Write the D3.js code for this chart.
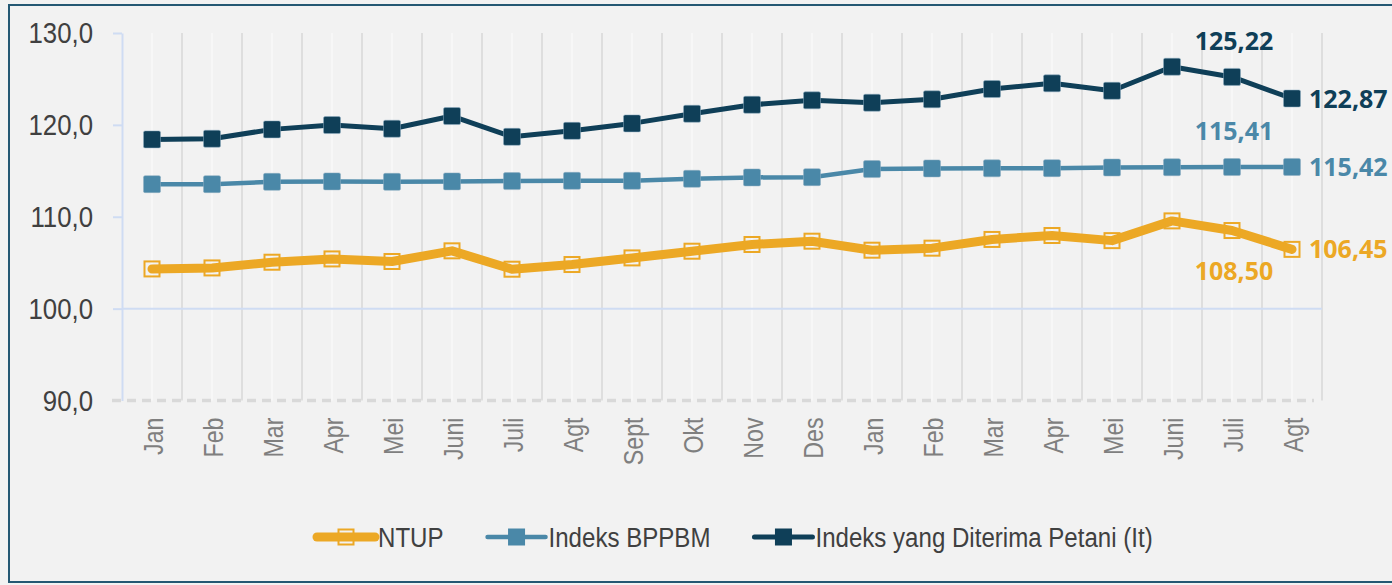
<!DOCTYPE html>
<html>
<head>
<meta charset="utf-8">
<script src="https://cdn.jsdelivr.net/npm/d3@7"></script>
<style>
  body { margin: 0; background: #f2f2f2; }
  svg { display: block; }
</style>
</head>
<body>
<div id="chart"></div>
<script>
// months on the x axis (two years, Jan..Des then Jan..Agt)
var months = ["Jan", "Feb", "Mar", "Apr", "Mei", "Juni", "Juli", "Agt", "Sept", "Okt", "Nov", "Des",
              "Jan", "Feb", "Mar", "Apr", "Mei", "Juni", "Juli", "Agt"];

var ntup  = [104.32, 104.43, 105.05, 105.41, 105.13, 106.29, 104.29, 104.80, 105.52, 106.25, 106.98, 107.34,
             106.36, 106.58, 107.53, 107.96, 107.40, 109.55, 108.50, 106.45];
var bppbm = [113.55, 113.55, 113.80, 113.85, 113.80, 113.85, 113.88, 113.91, 113.91, 114.13, 114.28, 114.31,
             115.19, 115.26, 115.27, 115.29, 115.36, 115.39, 115.41, 115.42];
var it    = [118.42, 118.49, 119.51, 119.98, 119.58, 120.96, 118.70, 119.35, 120.16, 121.21, 122.19, 122.67,
             122.41, 122.78, 123.90, 124.52, 123.71, 126.33, 125.22, 122.87];

var yTicks = [90, 100, 110, 120, 130];
var seriesNames = ["NTUP", "Indeks BPPBM", "Indeks yang Diterima Petani (It)"];

// which points get a value label
var labelPoints = [
  {series: 2, index: 18, place: "above"},
  {series: 2, index: 19, place: "right"},
  {series: 1, index: 18, place: "above"},
  {series: 1, index: 19, place: "right"},
  {series: 0, index: 18, place: "below"},
  {series: 0, index: 19, place: "right"}
];

document.addEventListener("DOMContentLoaded", function() {

  var W = 1392, H = 585;
  // no narrow font installed: squeeze Liberation Sans horizontally
  var sans = "'Liberation Sans', Arial, sans-serif";
  var squeeze = 0.86;

  var series = [
    {name: seriesNames[0], values: ntup,  color: "#eca825", width: 9,   marker: 15, hollow: true},
    {name: seriesNames[1], values: bppbm, color: "#4a88a8", width: 4.5, marker: 17, hollow: false},
    {name: seriesNames[2], values: it,    color: "#0f3f58", width: 5,   marker: 17, hollow: false}
  ];

  var svg = d3.select("#chart")
    .append("svg")
      .attr("width", W)
      .attr("height", H);

  // chart frame
  svg.append("rect")
    .attr("x", 9).attr("y", 5)
    .attr("width", W + 20).attr("height", 577)
    .attr("fill", "#f2f2f2")
    .attr("stroke", "#245873")
    .attr("stroke-width", 2);

  var x = d3.scaleBand()
    .domain(d3.range(months.length))
    .range([122, 1322]);

  var y = d3.scaleLinear()
    .domain([90, 130])
    .range([400.5, 33]);

  var cx = function(i) { return x(i) + x.bandwidth() / 2; };

  // faint lines at the category centres
  svg.append("g")
    .selectAll("line")
    .data(d3.range(months.length))
    .enter()
    .append("line")
      .attr("x1", cx).attr("x2", cx)
      .attr("y1", y(130)).attr("y2", y(90))
      .attr("stroke", "#f7f7f7")
      .attr("stroke-width", 2);

  // vertical gridlines between categories
  svg.append("g")
    .selectAll("line")
    .data(d3.range(1, months.length + 1))
    .enter()
    .append("line")
      .attr("x1", function(i) { return 122 + i * x.step(); })
      .attr("x2", function(i) { return 122 + i * x.step(); })
      .attr("y1", y(130)).attr("y2", y(90))
      .attr("stroke", "#dedede")
      .attr("stroke-width", 2);

  // horizontal line at 100
  svg.append("line")
    .attr("x1", 122).attr("x2", 1322)
    .attr("y1", y(100)).attr("y2", y(100))
    .attr("stroke", "#cfdcf3")
    .attr("stroke-width", 2);

  // dashed baseline at 90
  svg.append("line")
    .attr("x1", 112).attr("x2", 1314)
    .attr("y1", y(90)).attr("y2", y(90))
    .attr("stroke", "#d9d9d9")
    .attr("stroke-width", 3.5)
    .attr("stroke-dasharray", "9,6");

  // y axis
  var yAxis = svg.append("g")
    .attr("transform", "translate(122,0)")
    .call(d3.axisLeft(y)
      .tickValues(yTicks)
      .tickSize(9)
      .tickSizeOuter(0)
      .tickFormat(function(d) { return d.toFixed(1).replace(".", ","); }));
  yAxis.select(".domain")
    .attr("stroke", "#cfdcf3")
    .attr("stroke-width", 2);
  yAxis.selectAll(".tick line")
    .attr("stroke", "#cfdcf3")
    .attr("stroke-width", 2);
  yAxis.selectAll(".tick text")
    .attr("transform", "scale(" + squeeze + ",1)")
    .attr("x", -29 / squeeze)
    .attr("fill", "#404040")
    .style("font-family", sans)
    .style("font-size", "30px");
  // the 90 tick sits on the dashed base line
  yAxis.selectAll(".tick").filter(function(d) { return d === 90; }).select("line").remove();

  // x axis
  var xAxis = svg.append("g")
    .attr("transform", "translate(0," + y(90) + ")")
    .call(d3.axisBottom(x)
      .tickSize(0)
      .tickFormat(function(i) { return months[i]; }));
  xAxis.select(".domain").remove();
  xAxis.selectAll(".tick text")
    .attr("transform", "rotate(-90) scale(" + squeeze + ",1)")
    .attr("text-anchor", "end")
    .attr("x", -17 / squeeze)
    .attr("y", 0)
    .attr("dy", "0.4em")
    .attr("fill", "#7f7f7f")
    .style("font-family", sans)
    .style("font-size", "27px");

  // lines and markers
  var line = d3.line()
    .x(function(d, i) { return cx(i); })
    .y(function(d) { return y(d); });

  series.forEach(function(s) {
    var g = svg.append("g");
    g.append("path")
      .datum(s.values)
      .attr("d", line)
      .attr("fill", "none")
      .attr("stroke", s.color)
      .attr("stroke-width", s.width)
      .attr("stroke-linejoin", "round")
      .attr("stroke-linecap", "round");
    g.selectAll("rect")
      .data(s.values)
      .enter()
      .append("rect")
        .attr("x", function(d, i) { return cx(i) - s.marker / 2; })
        .attr("y", function(d) { return y(d) - s.marker / 2; })
        .attr("width", s.marker)
        .attr("height", s.marker)
        .attr("rx", s.hollow ? 0 : 1.5)
        .attr("fill", s.hollow ? "none" : s.color)
        .attr("stroke", s.hollow ? s.color : "#8fb0c4")
        .attr("stroke-opacity", s.hollow ? 1 : 0.5)
        .attr("stroke-width", s.hollow ? 2 : 1);
  });

  // value labels
  var fmt = function(v) { return d3.format(".2f")(v).replace(".", ","); };
  svg.append("g")
    .selectAll("text")
    .data(labelPoints)
    .enter()
    .append("text")
      .text(function(d) { return fmt(series[d.series].values[d.index]); })
      .attr("x", function(d) { return d.place === "right" ? cx(d.index) + 17 : cx(d.index) + 2; })
      .attr("y", function(d) {
        var py = y(series[d.series].values[d.index]);
        if (d.place === "above") return py - 27;
        if (d.place === "below") return py + 49;
        return py + 9;
      })
      .attr("text-anchor", function(d) { return d.place === "right" ? "start" : "middle"; })
      .attr("fill", function(d) { return series[d.series].color; })
      .style("font-family", "'Open Sans', sans-serif")
      .style("font-weight", "bold")
      .style("font-size", "25px");

  // legend
  var legend = svg.append("g").attr("transform", "translate(0,537)");
  var lx = 317;
  series.forEach(function(s) {
    var item = legend.append("g").attr("transform", "translate(" + lx + ",0)");
    item.append("line")
      .attr("x1", 0).attr("x2", 58)
      .attr("stroke", s.color)
      .attr("stroke-width", s.width)
      .attr("stroke-linecap", "round");
    item.append("rect")
      .attr("x", 29 - s.marker / 2).attr("y", -s.marker / 2)
      .attr("width", s.marker).attr("height", s.marker)
      .attr("fill", s.hollow ? "none" : s.color)
      .attr("stroke", s.color)
      .attr("stroke-width", s.hollow ? 2 : 0);
    var t = item.append("text")
      .text(s.name)
      .attr("transform", "scale(" + squeeze + ",1)")
      .attr("x", 61 / squeeze)
      .attr("dy", "0.36em")
      .attr("fill", "#404040")
      .style("font-family", sans)
      .style("font-size", "28px");
    lx += 61 + t.node().getComputedTextLength() * squeeze + 44;
  });

});
</script>
</body>
</html>
